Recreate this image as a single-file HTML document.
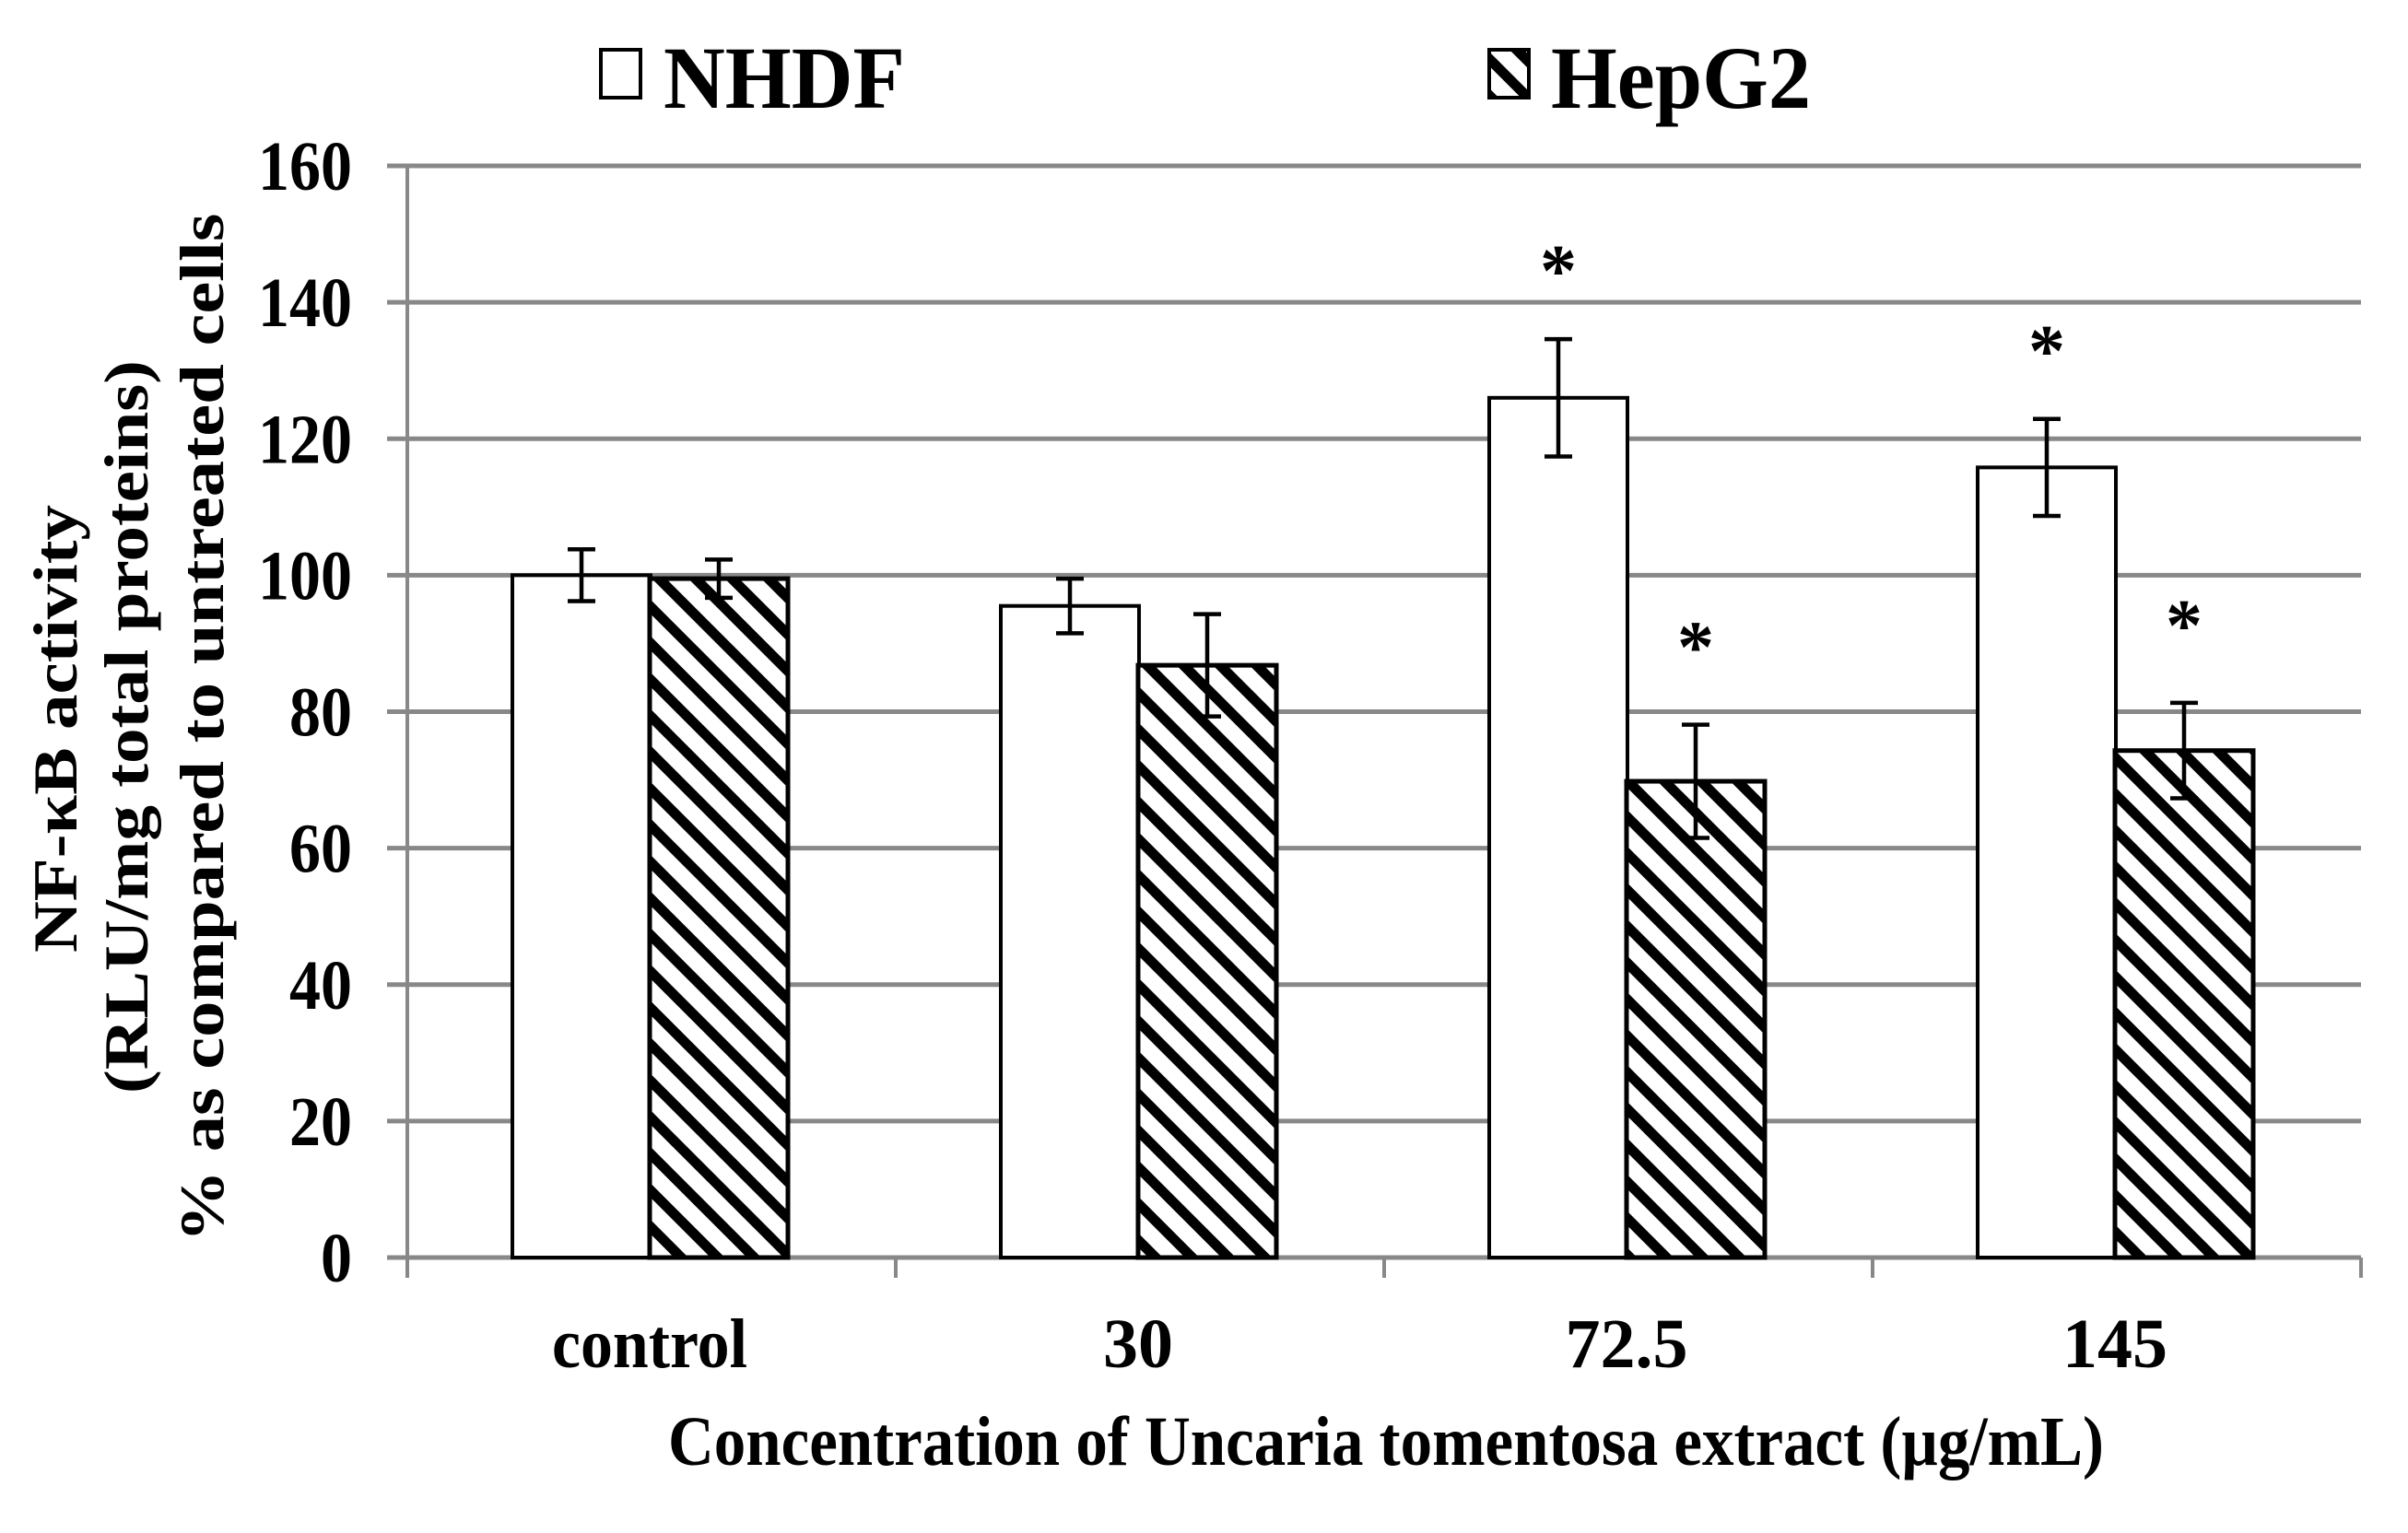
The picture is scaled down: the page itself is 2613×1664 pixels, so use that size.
<!DOCTYPE html>
<html><head><meta charset="utf-8"><style>
html,body{margin:0;padding:0;background:#fff}
svg{display:block}
text{font-family:"Liberation Serif",serif;font-weight:bold;fill:#000}
</style></head><body>
<svg id="chart" width="2613" height="1664" viewBox="0 0 2613 1664" xmlns="http://www.w3.org/2000/svg">
<defs>
<pattern id="hatch" patternUnits="userSpaceOnUse" width="28" height="28" patternTransform="rotate(-45)">
<rect width="28" height="28" fill="#fff"/><rect x="0" y="0" width="11" height="28" fill="#000"/>
</pattern>
</defs>
<g id="grid"></g>
<g id="bars"></g>
<g id="axes"></g>
<g id="legend">
<rect x="652" y="54" width="43" height="52" fill="#fff" stroke="#000" stroke-width="4"/>
<text x="720" y="117" font-size="96" textLength="262" lengthAdjust="spacingAndGlyphs">NHDF</text>
<rect x="1616" y="54" width="43" height="52" fill="url(#hatch)" stroke="#000" stroke-width="4"/>
<text x="1683" y="117" font-size="96" textLength="282" lengthAdjust="spacingAndGlyphs">HepG2</text>
</g>
<g>
<text transform="translate(83,791) rotate(-90)" text-anchor="middle" font-size="68" textLength="486" lengthAdjust="spacingAndGlyphs">NF-κB activity</text>
<text transform="translate(160,789) rotate(-90)" text-anchor="middle" font-size="68" textLength="796" lengthAdjust="spacingAndGlyphs">(RLU/mg  total proteins)</text>
<text transform="translate(242,790) rotate(-90)" text-anchor="middle" font-size="68" textLength="1117" lengthAdjust="spacingAndGlyphs">% as compared to untreated cells</text>
</g>
<text x="725" y="1590" font-size="76" textLength="1558" lengthAdjust="spacingAndGlyphs">Concentration  of Uncaria  tomentosa extract (µg/mL)</text>
</svg>
<script>
const categories = ["control", "30", "72.5", "145"];
const nhdfValues = [100, 95.5, 126, 115.8];
const nhdfErrors = [3.8, 4, 8.6, 7.1];
const hepg2Values = [99.5, 86.8, 69.8, 74.3];
const hepg2Errors = [2.8, 7.5, 8.3, 7];
const nhdfStars = [false, false, true, true];
const hepg2Stars = [false, false, true, true];
const yTicks = [0, 20, 40, 60, 80, 100, 120, 140, 160];

const NS = "http://www.w3.org/2000/svg";
const X0 = 442, X1 = 2562, Y0 = 1365, Y160 = 180;
const groupW = (X1 - X0) / categories.length;
function y(v){ return Y0 - (v / 160) * (Y0 - Y160); }
function gx(i){ return X0 + i * groupW; }
function mk(tag, attrs, parent){ const e = document.createElementNS(NS, tag); for (const k in attrs) e.setAttribute(k, attrs[k]); parent.appendChild(e); return e; }

const grid = document.getElementById('grid');
const axes = document.getElementById('axes');
const bars = document.getElementById('bars');

yTicks.forEach(t => {
  const l = mk('line', {x1: 420, x2: X1, y1: y(t), y2: y(t), stroke: '#888', 'stroke-width': 5}, grid);
  
  
  const s = String(t);
  const tx = mk('text', {x: 382, y: y(t) + 26, 'text-anchor': 'end', 'font-size': 76, textLength: 34 * s.length, lengthAdjust: 'spacingAndGlyphs'}, axes);
  tx.textContent = s;
  
  
});
const ya = mk('line', {x1: X0, x2: X0, y1: Y160, y2: Y0 + 22, stroke: '#888', 'stroke-width': 4}, axes);


for (let i = 0; i <= categories.length; i++) {
  const tk = mk('line', {x1: gx(i), x2: gx(i), y1: Y0, y2: Y0 + 22, stroke: '#888', 'stroke-width': 4}, axes);
  
  
}

function drawStar(cx, cy){
  const s = mk('text', {x: cx, y: cy + 38, 'text-anchor': 'middle', 'font-size': 80}, bars);
  s.textContent = '*';
  
  
}
function drawErr(cx, v, e){
  const g = mk('g', {stroke: '#000', 'stroke-width': 4.5}, bars);
  
  
  mk('line', {x1: cx, x2: cx, y1: y(v + e), y2: y(v - e)}, g);
  mk('line', {x1: cx - 15, x2: cx + 15, y1: y(v + e), y2: y(v + e)}, g);
  mk('line', {x1: cx - 15, x2: cx + 15, y1: y(v - e), y2: y(v - e)}, g);
}

categories.forEach((c, i) => {
  const nx = gx(i) + 114, hx = gx(i) + 263, bw = 150;
  const r1 = mk('rect', {x: nx, y: y(nhdfValues[i]), width: bw, height: Y0 - y(nhdfValues[i]), fill: '#fff', stroke: '#000', 'stroke-width': 4}, bars);
  
  
  const r2 = mk('rect', {x: hx, y: y(hepg2Values[i]), width: bw, height: Y0 - y(hepg2Values[i]), fill: 'url(#hatch)', stroke: '#000', 'stroke-width': 5}, bars);
  
  
  drawErr(nx + bw / 2, nhdfValues[i], nhdfErrors[i]);
  drawErr(hx + bw / 2, hepg2Values[i], hepg2Errors[i]);
  if (nhdfStars[i]) drawStar(nx + bw / 2, y(nhdfValues[i] + nhdfErrors[i]) - 85);
  if (hepg2Stars[i]) drawStar(hx + bw / 2, y(hepg2Values[i] + hepg2Errors[i]) - 95);
  const lbl = mk('text', {x: gx(i) + groupW / 2 - 2, y: 1484, 'text-anchor': 'middle', 'font-size': 76}, axes);
  lbl.textContent = c;
  
  
  if (c === 'control') { lbl.setAttribute('textLength', 212); lbl.setAttribute('lengthAdjust', 'spacingAndGlyphs'); }
});
</script>
</body></html>
